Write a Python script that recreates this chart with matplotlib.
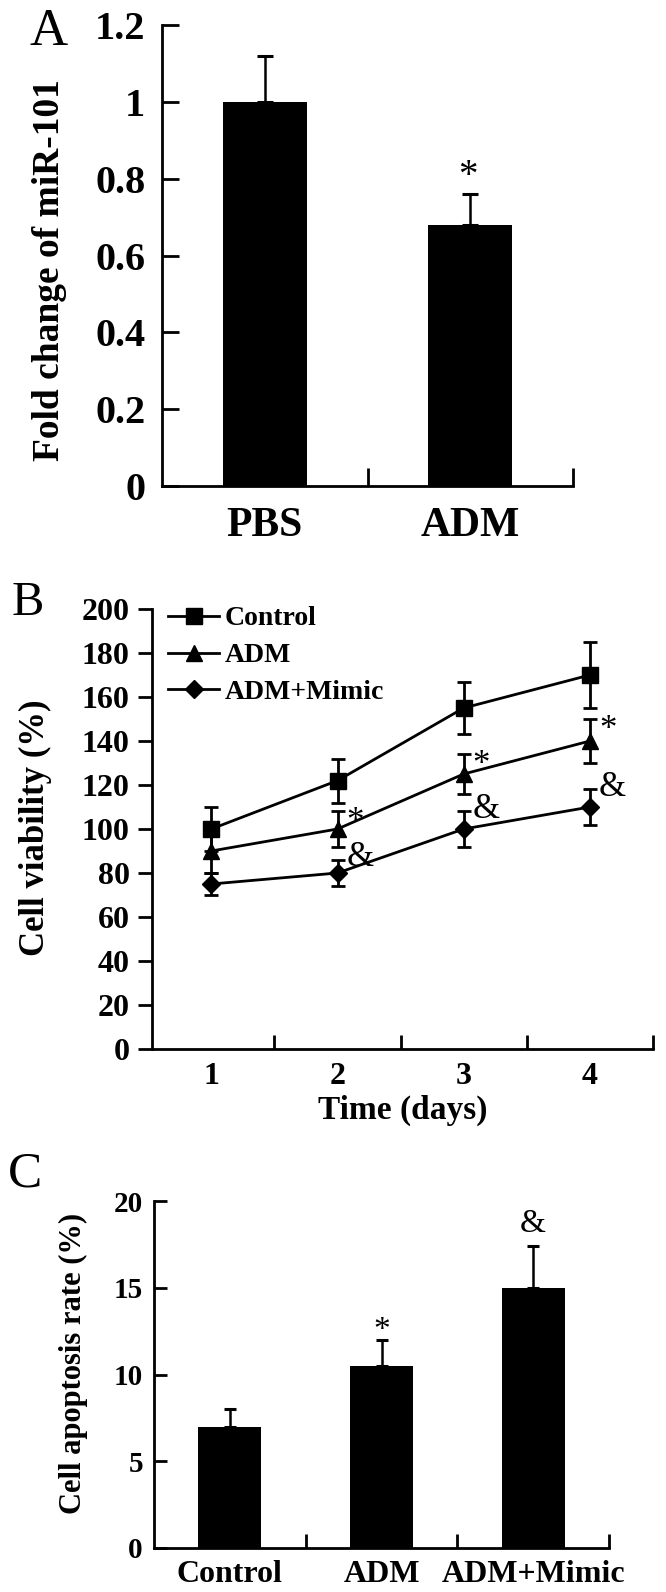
import matplotlib
matplotlib.use("Agg")
import matplotlib.pyplot as plt

plt.rcParams['font.family'] = ['Liberation Serif', 'DejaVu Serif']
plt.rcParams['font.weight'] = 'bold'
plt.rcParams['axes.labelweight'] = 'bold'

W, H = 666, 1592

# panel A data
groups_a = ["PBS", "ADM"]
fold_change = [1.0, 0.68]
fold_err = [0.12, 0.08]
sig_a = ["", "*"]
yticks_a = [0, 0.2, 0.4, 0.6, 0.8, 1.0, 1.2]
ylabels_a = ["0", "0.2", "0.4", "0.6", "0.8", "1", "1.2"]

# panel B data
days = [1, 2, 3, 4]
ctrl = [100, 122, 155, 170]
ctrl_err = [10, 10, 12, 15]
adm = [90, 100, 125, 140]
adm_err = [10, 8, 9, 10]
mimic = [75, 80, 100, 110]
mimic_err = [5, 6, 8, 8]
sig_adm = ["", "*", "*", "*"]
sig_mimic = ["", "&", "&", "&"]
yticks_b = [0, 20, 40, 60, 80, 100, 120, 140, 160, 180, 200]

# panel C data
groups_c = ["Control", "ADM", "ADM+Mimic"]
apoptosis = [7, 10.5, 15]
apoptosis_err = [1, 1.5, 2.4]
sig_c = ["", "*", "&"]
yticks_c = [0, 5, 10, 15, 20]


def px_axes(fig, x0, y0, x1, y1):
    return fig.add_axes([x0 / W, 1 - y1 / H, (x1 - x0) / W, (y1 - y0) / H])


def style_axes(ax, lw=2.0):
    ax.spines['top'].set_visible(False)
    ax.spines['right'].set_visible(False)
    ax.spines['left'].set_linewidth(lw)
    ax.spines['bottom'].set_linewidth(lw)


def fig_text(fig, x, y, s, **kw):
    fig.text(x / W, 1 - y / H, s, ha='center', va='center', **kw)


fig = plt.figure(figsize=(W / 100, H / 100), dpi=100)

# ---- A ----
ax = px_axes(fig, 162, 25, 573, 486)
style_axes(ax)
xa = list(range(len(groups_a)))
ax.bar(xa, fold_change, width=0.41, color='black')
ax.errorbar(xa, fold_change, yerr=[[0] * len(xa), fold_err], fmt='none',
            ecolor='black', elinewidth=1.8, capsize=6, capthick=2.2)
for i, s in enumerate(sig_a):
    if s:
        # asterisk glyph sits high in its box, so aim a bit lower
        ax.text(xa[i] - 0.01, fold_change[i] + fold_err[i] + 0.045, s,
                ha='center', va='center', fontsize=28, fontweight='normal')
ax.set_xlim(-0.5, 1.5)
ax.set_ylim(0, 1.2)
ax.set_yticks(yticks_a)
ax.set_yticklabels(ylabels_a)
ax.set_xticks(xa)
ax.set_xticklabels(groups_a)
ax.set_xticks([0.5, 1.5], minor=True)
ax.tick_params(axis='y', direction='in', length=12, width=2, labelsize=29, pad=12)
ax.tick_params(axis='x', which='major', length=0, labelsize=30, pad=15)
ax.tick_params(axis='x', which='minor', direction='in', length=13, width=2)
fig_text(fig, 50, 270, "Fold change of miR-101", rotation=90, fontsize=27)
fig_text(fig, 49, 32, "A", fontsize=38, fontweight='normal')

# ---- B ----
ax = px_axes(fig, 152, 609, 653, 1049)
style_axes(ax)
eb_ctrl = ax.errorbar(days, ctrl, yerr=ctrl_err, fmt='-s', color='black', lw=2,
                      ms=11.5, elinewidth=2, capsize=5, capthick=2)
eb_adm = ax.errorbar(days, adm, yerr=adm_err, fmt='-^', color='black', lw=2,
                     ms=12, elinewidth=2, capsize=5, capthick=2)
eb_mimic = ax.errorbar(days, mimic, yerr=mimic_err, fmt='-D', color='black', lw=2,
                       ms=9, elinewidth=2, capsize=5, capthick=2)
for i, d in enumerate(days):
    if sig_adm[i]:
        ax.text(d + 0.14, adm[i] + adm_err[i] - 5, sig_adm[i], ha='center',
                va='center', fontsize=25, fontweight='normal')
    if sig_mimic[i]:
        ax.text(d + 0.18, mimic[i] + mimic_err[i] + 1, sig_mimic[i], ha='center',
                va='center', fontsize=25, fontweight='normal')
ax.set_xlim(0.53, 4.5)
ax.set_ylim(0, 200)
ax.set_yticks(yticks_b)
ax.set_xticks(days)
ax.set_xticks([1.5, 2.5, 3.5, 4.5], minor=True)
ax.tick_params(axis='y', direction='out', length=10, width=2, labelsize=23, pad=6)
ax.tick_params(axis='x', which='major', length=0, labelsize=23, pad=9)
ax.tick_params(axis='x', which='minor', direction='in', length=10, width=2)
ax.set_xlabel("Time (days)", fontsize=24, fontweight='bold', labelpad=3)
ax.legend(handles=[eb_ctrl[0], eb_adm[0], eb_mimic[0]],
          labels=["Control", "ADM", "ADM+Mimic"],
          loc='upper left', bbox_to_anchor=(168 / W, 1 - 606 / H),
          bbox_transform=fig.transFigure, frameon=False, fontsize=20,
          handlelength=1.85, handletextpad=0.2, labelspacing=0.41,
          borderpad=0, borderaxespad=0)
fig_text(fig, 35, 828, "Cell viability (%)", rotation=90, fontsize=25)
fig_text(fig, 28, 603, "B", fontsize=35, fontweight='normal')

# ---- C ----
ax = px_axes(fig, 154, 1201, 609, 1548)
style_axes(ax)
xc = list(range(len(groups_c)))
ax.bar(xc, apoptosis, width=0.417, color='black')
ax.errorbar(xc, apoptosis, yerr=[[0] * len(xc), apoptosis_err], fmt='none',
            ecolor='black', elinewidth=1.8, capsize=4.5, capthick=2.2)
for i, s in enumerate(sig_c):
    if s == "*":
        ax.text(xc[i], apoptosis[i] + apoptosis_err[i] + 0.5, s, ha='center',
                va='center', fontsize=24, fontweight='normal')
    elif s:
        ax.text(xc[i], apoptosis[i] + apoptosis_err[i] + 1.3, s, ha='center',
                va='center', fontsize=24, fontweight='normal')
ax.set_xlim(-0.5, 2.5)
ax.set_ylim(0, 20)
ax.set_yticks(yticks_c)
ax.set_xticks(xc)
ax.set_xticklabels(groups_c)
ax.set_xticks([0.5, 1.5, 2.5], minor=True)
ax.tick_params(axis='y', direction='in', length=9, width=2, labelsize=21, pad=8)
ax.tick_params(axis='x', which='major', length=0, labelsize=23, pad=9)
ax.tick_params(axis='x', which='minor', direction='in', length=10, width=2)
fig_text(fig, 73, 1363, "Cell apoptosis rate (%)", rotation=90, fontsize=22)
fig_text(fig, 25, 1174, "C", fontsize=37, fontweight='normal')

fig.savefig("out.png", dpi=100)
